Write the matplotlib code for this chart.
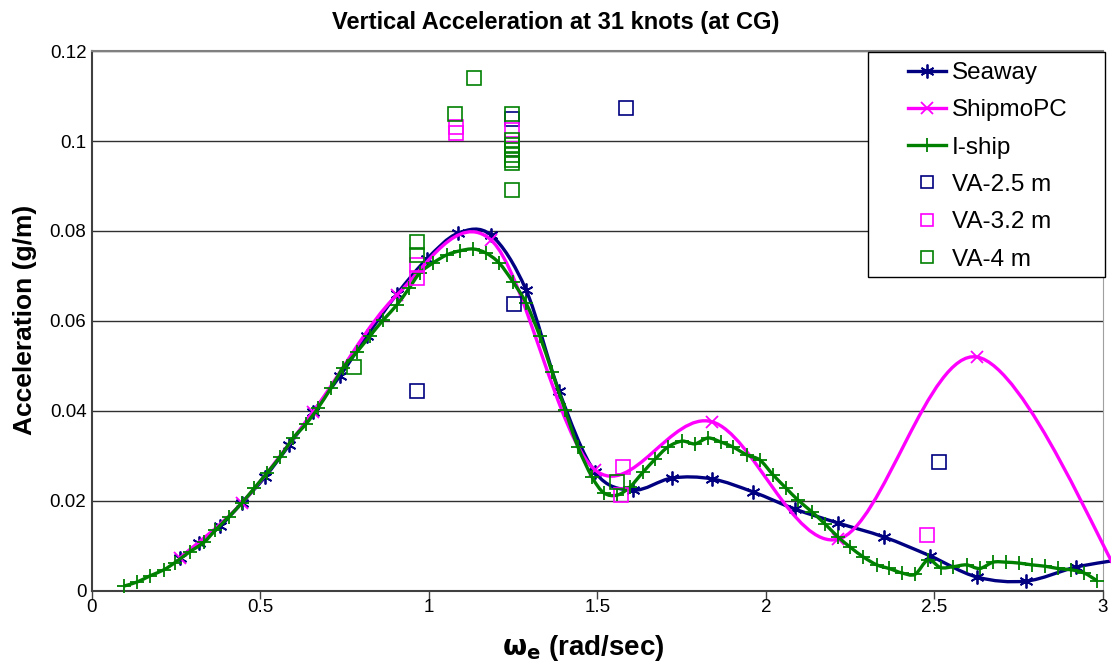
import numpy as np
import matplotlib
matplotlib.use('Agg')
import matplotlib.pyplot as plt
from matplotlib.path import Path
from matplotlib.patches import PathPatch, Rectangle
from matplotlib.lines import Line2D

plt.rcParams['font.family'] = ['Liberation Sans', 'DejaVu Sans']

# Seaway prediction
seaway_x = [0.26, 0.318, 0.38, 0.445, 0.513, 0.585, 0.656, 0.736, 0.816, 0.905,
            0.994, 1.086, 1.184, 1.288, 1.386, 1.493, 1.605, 1.721, 1.84, 1.962,
            2.086, 2.214, 2.35, 2.487, 2.626, 2.772, 2.92, 3.07]
seaway_y = [0.0073, 0.0107, 0.0144, 0.0196, 0.0253, 0.0324, 0.0398, 0.0478, 0.0567, 0.0660,
            0.0738, 0.0795, 0.0791, 0.0669, 0.0444, 0.0264, 0.0224, 0.0251, 0.0249, 0.0220,
            0.0182, 0.0151, 0.0120, 0.0078, 0.0031, 0.0022, 0.0053, 0.0072]

# ShipmoPC prediction
shipmo_x = [0.26, 0.445, 0.656, 0.905, 1.184, 1.493, 1.84, 2.214, 2.626, 3.07]
shipmo_y = [0.0073, 0.0196, 0.0398, 0.0658, 0.0780, 0.0269, 0.0376, 0.0115, 0.0520, 0.0005]

# I-ship prediction
iship_x = [0.095, 0.134, 0.173, 0.213, 0.246, 0.290, 0.332, 0.366, 0.406, 0.445,
           0.481, 0.519, 0.558, 0.597, 0.635, 0.671, 0.709, 0.745, 0.786, 0.825,
           0.864, 0.905, 0.941, 0.973, 1.012, 1.053, 1.092, 1.131, 1.169, 1.208,
           1.249, 1.288, 1.329, 1.365, 1.404, 1.442, 1.484, 1.519, 1.558, 1.596,
           1.635, 1.671, 1.709, 1.751, 1.789, 1.828, 1.866, 1.902, 1.944, 1.982,
           2.021, 2.059, 2.095, 2.136, 2.175, 2.214, 2.249, 2.288, 2.329, 2.365,
           2.404, 2.442, 2.481, 2.518, 2.556, 2.595, 2.634, 2.674, 2.712, 2.751,
           2.789, 2.828, 2.866, 2.906, 2.944, 2.982]
iship_y = [0.0011, 0.0020, 0.0034, 0.0047, 0.0063, 0.0087, 0.0108, 0.0135, 0.0165, 0.0196,
           0.0228, 0.0262, 0.0298, 0.0340, 0.0371, 0.0407, 0.0451, 0.0496, 0.0531, 0.0567,
           0.0602, 0.0636, 0.0673, 0.0707, 0.0729, 0.0747, 0.0756, 0.0760, 0.0751, 0.0729,
           0.0687, 0.0640, 0.0566, 0.0487, 0.0402, 0.0320, 0.0253, 0.0218, 0.0213, 0.0231,
           0.0264, 0.0293, 0.0320, 0.0333, 0.0327, 0.0340, 0.0331, 0.0320, 0.0302, 0.0291,
           0.0258, 0.0229, 0.0202, 0.0176, 0.0149, 0.0120, 0.0098, 0.0076, 0.0058, 0.0050,
           0.0040, 0.0037, 0.0069, 0.0052, 0.0054, 0.0058, 0.0050, 0.0064, 0.0064, 0.0062,
           0.0058, 0.0055, 0.0050, 0.0047, 0.0040, 0.0023]

# measured values
va25_x = [0.964, 1.252, 1.246, 1.585, 2.513]
va25_y = [0.0444, 0.0638, 0.1049, 0.1073, 0.0287]

va32_x = [0.964, 0.964, 1.080, 1.080, 1.246, 1.246, 1.570, 1.576, 2.478]
va32_y = [0.0724, 0.0696, 0.1031, 0.1018, 0.1024, 0.0982, 0.0213, 0.0275, 0.0125]

va4_x = [0.777, 0.964, 0.964, 1.077, 1.133, 1.246, 1.246, 1.246, 1.246, 1.246,
         1.246, 1.246, 1.246, 1.558]
va4_y = [0.0498, 0.0776, 0.0747, 0.1060, 0.1140, 0.1060, 0.1002, 0.0991, 0.0980, 0.0969,
         0.0958, 0.0951, 0.0891, 0.0242]

NAVY = '#000080'
MAGENTA = '#FF00FF'
GREEN = '#008000'


def smooth_path(x, y):
    # Excel style smoothed line: cubic bezier through the points
    pts = np.column_stack([x, y])
    n = len(pts)
    verts = [pts[0]]
    codes = [Path.MOVETO]
    for i in range(n - 1):
        p0 = pts[i - 1] if i > 0 else pts[i]
        p1 = pts[i]
        p2 = pts[i + 1]
        p3 = pts[i + 2] if i + 2 < n else pts[i + 1]
        verts += [p1 + (p2 - p0) / 6, p2 - (p3 - p1) / 6, p2]
        codes += [Path.CURVE4] * 3
    return Path(verts, codes)


fig = plt.figure(figsize=(11.11, 6.65), dpi=100)
ax = fig.add_axes([0.0828, 0.1113, 0.9100, 0.8120])

series = [
    ('Seaway', seaway_x, seaway_y, NAVY, dict(marker=(6, 2, 0), markersize=10, markeredgewidth=1.3)),
    ('ShipmoPC', shipmo_x, shipmo_y, MAGENTA, dict(marker='x', markersize=9, markeredgewidth=1.3)),
    ('I-ship', iship_x, iship_y, GREEN, dict(marker='+', markersize=10, markeredgewidth=1.3)),
]

handles = []
for name, x, y, c, mk in series:
    ax.add_patch(PathPatch(smooth_path(x, y), facecolor='none', edgecolor=c,
                           lw=2.4, transform=ax.transData, clip_on=False, zorder=3))
    ax.plot(x, y, linestyle='none', color=c, clip_on=False, zorder=3, **mk)
    handles.append(Line2D([], [], color=c, lw=2.4, **mk, label=name))

for name, x, y, c in [('VA-2.5 m', va25_x, va25_y, NAVY),
                      ('VA-3.2 m', va32_x, va32_y, MAGENTA),
                      ('VA-4 m', va4_x, va4_y, GREEN)]:
    ax.plot(x, y, linestyle='none', marker='s', markersize=10, markerfacecolor='none',
            markeredgecolor=c, markeredgewidth=1.2, zorder=4)
    handles.append(Line2D([], [], linestyle='none', marker='s', markersize=9,
                          markerfacecolor='none', markeredgecolor=c, markeredgewidth=1.2,
                          label=name))

ax.set_xlim(0, 3)
ax.set_ylim(0, 0.12)
ax.set_xticks([0, 0.5, 1, 1.5, 2, 2.5, 3])
ax.set_xticklabels(['0', '0.5', '1', '1.5', '2', '2.5', '3'])
ax.set_yticks([0, 0.02, 0.04, 0.06, 0.08, 0.1, 0.12])
ax.set_yticklabels(['0', '0.02', '0.04', '0.06', '0.08', '0.1', '0.12'])
ax.tick_params(labelsize=13.5, color='#404040')
ax.tick_params(axis='y', length=0, pad=4)
ax.tick_params(axis='x', direction='out', length=6, width=1, pad=0)

ax.yaxis.grid(True, color='#303030', lw=1.0)
ax.set_axisbelow(True)
ax.spines['top'].set_color('#808080')
ax.spines['top'].set_linewidth(1.5)
ax.spines['right'].set_color('#a0a0a0')
ax.spines['left'].set_color('#404040')
ax.spines['bottom'].set_color('#404040')
ax.spines['left'].set_linewidth(1.5)
ax.spines['bottom'].set_linewidth(1.5)

fig.text(0.5, 1 - 22 / 665, 'Vertical Acceleration at 31 knots (at CG)', fontsize=17,
         fontweight='bold', ha='center', va='center')
fig.text(25 / 1111, 1 - 320 / 665, 'Acceleration (g/m)', fontsize=19, fontweight='bold',
         rotation=90, ha='center', va='center')
fig.text(583 / 1111, 1 - 648 / 665, r'$\mathbf{\omega_e}$ (rad/sec)', fontsize=20,
         fontweight='bold', ha='center', va='center')

# legend box like the Excel one
fig.patches.append(Rectangle((868 / 1111, 1 - 277 / 665), 237 / 1111, 225 / 665,
                             transform=fig.transFigure, facecolor='white', edgecolor='black',
                             lw=1.0, zorder=5))
leg = fig.legend(handles=handles, loc='upper left', bbox_to_anchor=(908 / 1111, 1 - 62 / 665),
                 fontsize=17.5, frameon=False, handlelength=1.55, labelspacing=0.63,
                 borderpad=0, handletextpad=0.25, borderaxespad=0)
leg.set_zorder(6)

fig.savefig('out.png', dpi=100)
